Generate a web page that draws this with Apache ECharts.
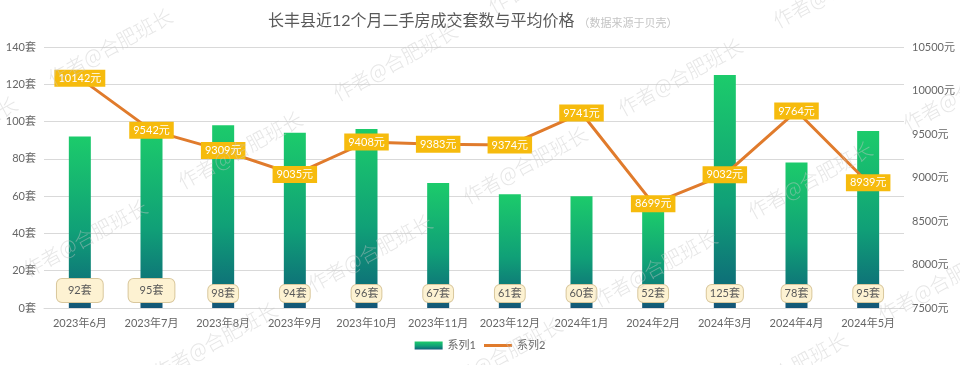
<!DOCTYPE html>
<html>
<head>
<meta charset="utf-8">
<script src="https://cdn.jsdelivr.net/npm/echarts@6/dist/echarts.min.js"></script>
<style>
html,body{margin:0;padding:0;background:#fff;}
#c{width:960px;height:365px;}
</style>
</head>
<body>
<div id="c"></div>
<script>
const categories = ['2023年6月','2023年7月','2023年8月','2023年9月','2023年10月','2023年11月','2023年12月','2024年1月','2024年2月','2024年3月','2024年4月','2024年5月'];
const deals = [92,95,98,94,96,67,61,60,52,125,78,95];
const prices = [10142,9542,9309,9035,9408,9383,9374,9741,8699,9032,9764,8939];
const leftTicks = {min:0, max:140, interval:20};
const rightTicks = {min:7500, max:10500, interval:500};
const titleText = '长丰县近12个月二手房成交套数与平均价格';
const subText = '（数据来源于贝壳）';
const watermark = '作者@合肥班长';

const FONT = "Lato, 'Noto Sans CJK SC', sans-serif";
const chart = echarts.init(document.getElementById('c'), null, {renderer:'canvas'});

// watermark lattice
const wm = [];
const a = [285, 15], b = [155, -88];
for (let i = -2; i <= 4; i++) {
  for (let j = -3; j <= 3; j++) {
    const x = 240 + i*a[0] + j*b[0];
    const y = 150 + i*a[1] + j*b[1];
    if (x < -80 || x > 1040 || y < -50 || y > 420) continue;
    wm.push({
      type:'text', x:x, y:y, rotation: Math.PI/6.3, z: 100, silent:true,
      style:{text: watermark, fill:'rgba(200,200,200,0.45)', font:"300 20px 'Noto Sans CJK SC', sans-serif", align:'center', verticalAlign:'middle'}
    });
  }
}

const barLabelPad = deals.map((v,i)=> i<2 ? [6,11] : [3,3]);

chart.setOption({
  animation:false,
  backgroundColor:'#fff',
  textStyle:{fontFamily:FONT},
  title:{
    left:263, top:8,
    text:'{a|'+titleText+'}{b|'+subText+'}',
    textStyle:{
      fontWeight:'normal',
      rich:{
        a:{fontSize:16, color:'#595959', fontFamily:FONT, fontWeight:'normal'},
        b:{fontSize:11, color:'#c4c4c4', fontFamily:FONT, fontWeight:'normal', padding:[4,0,0,4]}
      }
    }
  },
  grid:{left:44, right:56, top:47, bottom:57, containLabel:false},
  legend:{
    bottom:9, left:'center', itemWidth:28, itemHeight:8, itemGap:8,
    textStyle:{color:'#666', fontSize:11, fontFamily:FONT},
    data:[{name:'系列1', icon:'rect'},{name:'系列2', icon:'path://M0 0h28v3h-28z'}]
  },
  xAxis:{
    type:'category', data:categories,
    axisLine:{lineStyle:{color:'#d9d9d9'}},
    axisTick:{show:false},
    axisLabel:{color:'#666', fontSize:11, margin:10, interval:0}
  },
  yAxis:[
    {type:'value', min:leftTicks.min, max:leftTicks.max, interval:leftTicks.interval,
     axisLabel:{formatter:v=>v+'套', color:'#666', fontSize:11, margin:8},
     axisLine:{show:false}, axisTick:{show:false},
     splitLine:{lineStyle:{color:'#d9d9d9'}}},
    {type:'value', min:rightTicks.min, max:rightTicks.max, interval:rightTicks.interval,
     axisLabel:{formatter:v=>v+'元', color:'#666', fontSize:11, margin:8},
     axisLine:{show:false}, axisTick:{show:false},
     splitLine:{show:false}}
  ],
  graphic: wm,
  series:[
    {
      name:'系列1', type:'bar', yAxisIndex:0, barWidth:22,
      data: deals.map((v,i)=>({value:v, label:{padding:barLabelPad[i]}})),
      itemStyle:{color:new echarts.graphic.LinearGradient(0,0,0,1,[
        {offset:0, color:'#1ccb6b'},
        {offset:0.55, color:'#10a077'},
        {offset:0.9, color:'#0e6f78'},
        {offset:1, color:'#155577'}
      ])},
      label:{show:true, position:'insideBottom', distance:6, formatter:'{c}套',
        color:'#595959', fontSize:11, backgroundColor:'#fdf2d2', borderColor:'#d9c79c', borderWidth:1, borderRadius:5}
    },
    {
      name:'系列2', type:'line', yAxisIndex:1, data:prices,
      symbol:'circle', symbolSize:2,
      lineStyle:{color:'#e07b2c', width:3},
      itemStyle:{color:'#e07b2c'},
      label:{show:true, position:'inside', formatter:'{c}元', color:'#fff', fontSize:11,
        backgroundColor:'#f6bb0d', padding:[3,4]},
      z:3
    }
  ]
});
</script>
</body>
</html>
